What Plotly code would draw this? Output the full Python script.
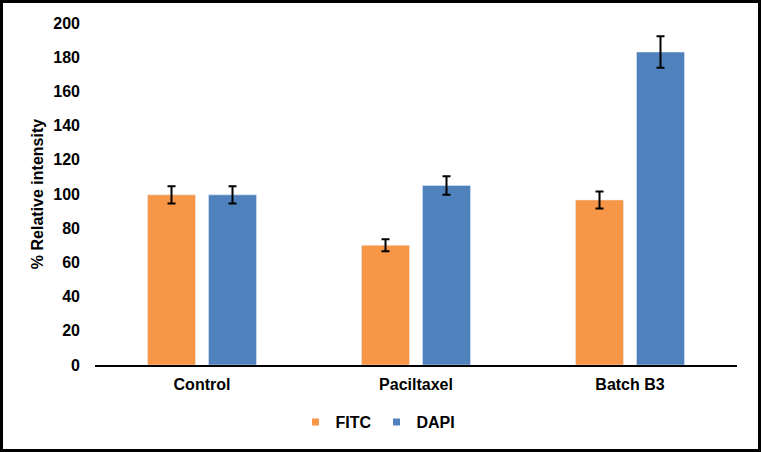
import plotly.graph_objects as go

categories = ["Control", "Paciltaxel", "Batch B3"]
fitc = [99.5, 70.0, 96.5]
fitc_err = [5.0, 3.5, 5.0]
dapi = [99.5, 105.0, 183.0]
dapi_err = [5.0, 5.4, 9.2]
y_ticks = [0, 20, 40, 60, 80, 100, 120, 140, 160, 180, 200]
series_names = ["FITC", "DAPI"]
series_colors = ["#F79646", "#4F81BD"]

W, H = 762, 452
ML, MR, MT, MB = 95, 25, 23, 87
PW, PH = W - ML - MR, H - MT - MB

font = dict(family="Arial, Liberation Sans, sans-serif", size=16, color="black", weight="bold")
err_style = dict(type="data", color="black", thickness=2, width=4, visible=True)

fig = go.Figure()
for name, vals, errs, col in zip(series_names, [fitc, dapi], [fitc_err, dapi_err], series_colors):
    fig.add_trace(go.Bar(name=name, x=categories, y=vals, marker_color=col, showlegend=False,
                         error_y=dict(array=errs, **err_style)))
# small square legend symbols, as in the original
for name, col in zip(series_names, series_colors):
    fig.add_trace(go.Scatter(name=name, x=[None], y=[None], mode="markers",
                             marker=dict(symbol="square", size=7, color=col)))

# outer border of the figure
fig.add_shape(type="rect", xref="paper", yref="paper",
              x0=(1.5 - ML) / PW, x1=(W - 2.5 - ML) / PW,
              y0=-(H - 1.5 - MT - PH) / PH, y1=1 + (MT - 1.5) / PH,
              line=dict(color="black", width=3), layer="above")

fig.update_layout(
    width=W, height=H,
    margin=dict(l=ML, r=MR, t=MT, b=MB),
    paper_bgcolor="white", plot_bgcolor="white",
    barmode="group", bargap=0.43, bargroupgap=0.213,
    font=font,
    showlegend=True,
    legend=dict(orientation="h", x=(378 - ML) / PW, xanchor="center", y=-57 / PH, yanchor="middle",
                font=font, itemwidth=30, traceorder="normal"),
    xaxis=dict(showline=True, linecolor="black", linewidth=2, showgrid=False,
               ticks="", tickfont=font, ticklabelstandoff=4),
    yaxis=dict(range=[0, 200], tickvals=y_ticks, showline=False, showgrid=False,
               zeroline=False, ticks="", tickfont=font, ticklabelstandoff=14,
               title=dict(text="% Relative intensity", font=font, standoff=5)),
)

fig.write_html("out.html", config={"displayModeBar": False},
               post_script="document.body.style.margin='0px';")
